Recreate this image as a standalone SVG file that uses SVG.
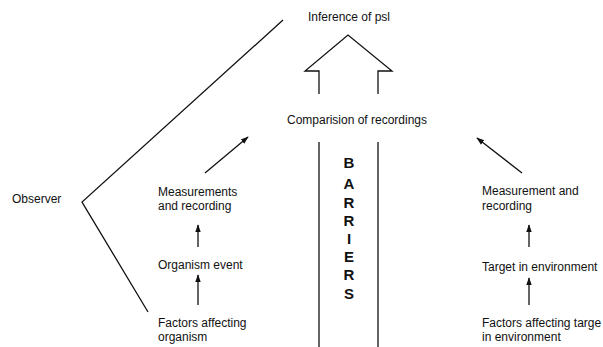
<svg xmlns="http://www.w3.org/2000/svg" width="603" height="347" viewBox="0 0 603 347">
<defs>
<style>
text{font-family:"Liberation Sans",Arial,sans-serif;font-size:12px;fill:#111}
.b{font-weight:bold;font-size:15px;text-anchor:middle}
.m{text-anchor:middle}
.ln{stroke:#111;stroke-width:1.3;fill:none}
</style>
<marker id="ah" viewBox="0 0 10 10" refX="9" refY="5" markerWidth="8" markerHeight="8" markerUnits="userSpaceOnUse" orient="auto">
<path d="M0,1.5 L10,5 L0,8.5 Z" fill="#111"/>
</marker>
</defs>
<rect width="603" height="347" fill="#fff"/>
<g id="inference"><text class="m" x="349" y="21">Inference of psl</text></g>
<g id="comparison"><text class="m" x="357" y="124">Comparision of recordings</text></g>
<g id="observer"><text x="12" y="203">Observer</text></g>
<g id="measure-left"><text x="158" y="196">Measurements</text><text x="158" y="210">and recording</text></g>
<g id="organism-event"><text x="158" y="269">Organism event</text></g>
<g id="factors-left"><text x="158" y="327">Factors affecting</text><text x="158" y="341">organism</text></g>
<g id="measure-right"><text x="482" y="195">Measurement and</text><text x="482" y="210">recording</text></g>
<g id="target"><text x="482" y="271">Target in environment</text></g>
<g id="factors-right"><text x="482" y="327">Factors affecting targe</text><text x="482" y="341">in environment</text></g>
<g id="barriers">
<line class="ln" x1="319" y1="142" x2="319" y2="347"/>
<line class="ln" x1="378" y1="142" x2="378" y2="347"/>
<text class="b" x="349" y="168">B</text>
<text class="b" x="349" y="189">A</text>
<text class="b" x="349" y="208">R</text>
<text class="b" x="349" y="226">R</text>
<text class="b" x="349" y="244">I</text>
<text class="b" x="349" y="262">E</text>
<text class="b" x="349" y="280">R</text>
<text class="b" x="349" y="299">S</text>
</g>
<g id="connectors">
<path class="ln" d="M319,94 L319,71 L305,71 L348,35 L392,71 L378,71 L378,94"/>
<polyline class="ln" points="283,20 82,202 148,312"/>
<line class="ln" x1="205" y1="173" x2="248" y2="137" marker-end="url(#ah)"/>
<line class="ln" x1="522" y1="173" x2="477" y2="138" marker-end="url(#ah)"/>
<line class="ln" x1="198" y1="247" x2="198" y2="225" marker-end="url(#ah)"/>
<line class="ln" x1="198" y1="305" x2="198" y2="275" marker-end="url(#ah)"/>
<line class="ln" x1="529" y1="247" x2="529" y2="225" marker-end="url(#ah)"/>
<line class="ln" x1="529" y1="305" x2="529" y2="278" marker-end="url(#ah)"/>
</g>
</svg>
